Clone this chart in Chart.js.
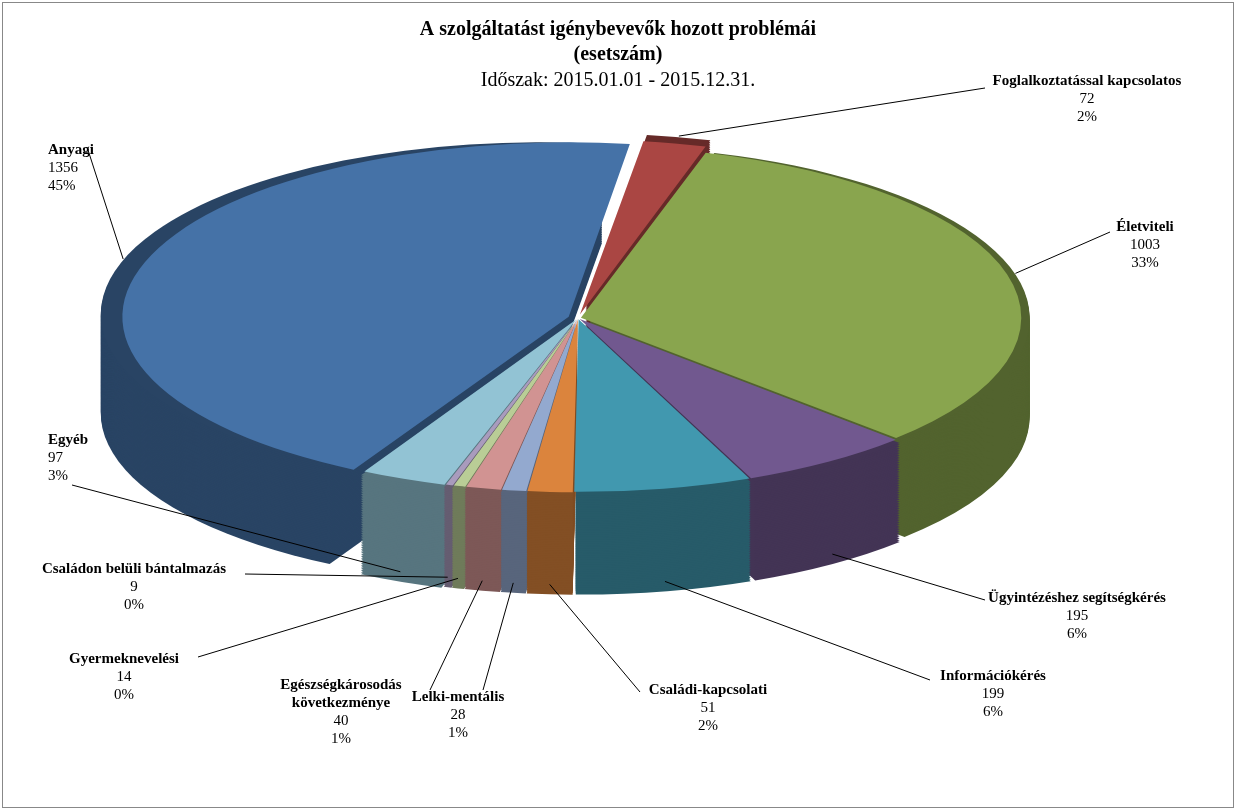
<!DOCTYPE html>
<html><head><meta charset="utf-8">
<script src="https://cdn.jsdelivr.net/npm/chart.js@4"></script>
<style>html,body{margin:0;padding:0;background:#fff}#wrap{width:1236px;height:810px;position:relative}</style>
</head><body><div id="wrap"><canvas id="c" width="1236" height="810"></canvas></div>
<script>
const categories=["Foglalkoztatással kapcsolatos","Életviteli","Ügyintézéshez segítségkérés","Információkérés","Családi-kapcsolati","Lelki-mentális","Egészségkárosodás\nkövetkezménye","Gyermeknevelési","Családon belüli bántalmazás","Egyéb","Anyagi"];
const values=[72,1003,195,199,51,28,40,14,9,97,1356];
const percents=["2%","33%","6%","6%","2%","1%","1%","0%","0%","3%","45%"];
const colors=["#AA4643","#89A54E","#71588F","#4198AF","#DB843D","#93A9CF","#D19392","#B9CD96","#A99BBD","#92C3D4","#4572A7"];
const explode=[24,8,8,8,8,8,8,8,8,10,26];
const labelPos=[[1087,74,"center",985,88],[1145,220,"center",1110,232],[1077,591,"center",985,600],[993,669,"center",930,680],[708,683,"center",640,692],[458,690,"center",483,690],[341,678,"center",430,690],[124,652,"center",198,657],[134,562,"center",245,574],[48,433,"left",72,485],[48,143,"left",88,150]];
function shade(hex,f){const n=parseInt(hex.slice(1),16);const r=(n>>16)*f,g=((n>>8)&255)*f,b=(n&255)*f;return `rgb(${r|0},${g|0},${b|0})`;}
const CX=578,CY=318,RX=440,RY=172,DEPTH=100;
let T=null;
function arcPath(ctx,a,dy){const mid=(a.startAngle+a.endAngle)/2;const off=a.options.offset||0;const x=a.x+Math.cos(mid)*off,y=a.y+Math.sin(mid)*off+dy;ctx.beginPath();ctx.moveTo(x,y);ctx.arc(x,y,a.outerRadius,a.startAngle,a.endAngle);ctx.closePath();}
const pie3d={id:'pie3d',
beforeDatasetsDraw(chart){const ctx=chart.ctx;const arcs=chart.getDatasetMeta(0).data;const a0=arcs[0];const sx=RX/a0.outerRadius,sy=RY/a0.outerRadius;T={cx:a0.x,cy:a0.y,sx,sy};
ctx.save();ctx.translate(CX,CY);ctx.scale(sx,sy);ctx.translate(-a0.x,-a0.y);
const d=DEPTH/sy;
const order=arcs.map((a,i)=>i).sort((i,j)=>Math.sin((arcs[i].startAngle+arcs[i].endAngle)/2)-Math.sin((arcs[j].startAngle+arcs[j].endAngle)/2));
for(const i of order){const a=arcs[i];for(let k=d;k>0;k-=3){arcPath(ctx,a,k);ctx.fillStyle=shade(colors[i],0.6);ctx.fill();}}
},
afterDatasetsDraw(chart){const ctx=chart.ctx;ctx.restore();
const arcs=chart.getDatasetMeta(0).data;
ctx.textBaseline="top";
arcs.forEach((a,i)=>{const mid=(a.startAngle+a.endAngle)/2;const off=a.options.offset||0;const rr=a.outerRadius*1.0+off;
let px=T.cx+Math.cos(mid)*rr,py=T.cy+Math.sin(mid)*rr;let X=CX+(px-T.cx)*T.sx,Y=CY+(py-T.cy)*T.sy;
if(Math.sin(mid)>0.3)Y+=DEPTH*0.9;
const L=labelPos[i];ctx.strokeStyle="#000";ctx.lineWidth=1;ctx.beginPath();ctx.moveTo(L[3],L[4]);ctx.lineTo(X,Y);ctx.stroke();
ctx.textAlign=L[2];ctx.fillStyle="#000";let y=L[1];
categories[i].split("\n").forEach(t=>{ctx.font="bold 15px 'Liberation Serif'";ctx.fillText(t,L[0],y);y+=18;});
ctx.font="15px 'Liberation Serif'";ctx.fillText(String(values[i]),L[0],y);y+=18;ctx.fillText(percents[i],L[0],y);});
ctx.textAlign="center";ctx.font="bold 20px 'Liberation Serif'";ctx.fillText("A szolgáltatást igénybevevők hozott problémái",618,20);ctx.fillText("(esetszám)",618,45);
ctx.font="20px 'Liberation Serif'";ctx.fillText("Időszak: 2015.01.01 - 2015.12.31.",618,71);
ctx.strokeStyle="#888";ctx.strokeRect(2.5,2.5,1231,805);
}};
new Chart(document.getElementById('c'),{type:'pie',
data:{labels:categories,datasets:[{data:values,backgroundColor:colors,borderWidth:0,offset:explode}]},
options:{responsive:false,animation:false,rotation:8,layout:{padding:{top:100,bottom:100}},
plugins:{legend:{display:false},title:{display:false},tooltip:{enabled:false}}},
plugins:[pie3d]});
</script></body></html>
